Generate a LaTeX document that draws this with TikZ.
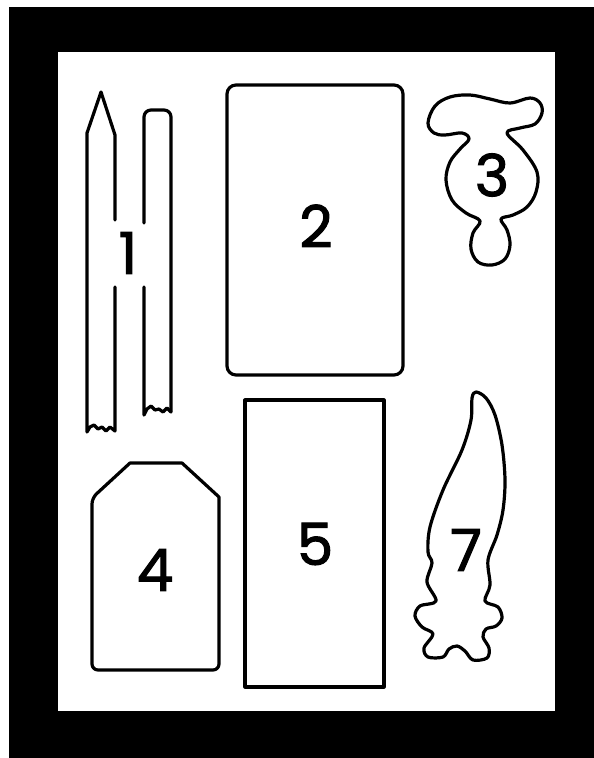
\documentclass[tikz,border=0pt]{standalone}
\usepackage{fontspec}
\newfontfamily\labfont{Poppins}[FakeBold=1.8]
\begin{document}
\begin{tikzpicture}[x=1pt,y=-1pt,
  outline/.style={draw=black,line width=3.2pt,line join=round,line cap=round},
  digit/.style={font=\labfont\fontsize{58}{58}\selectfont,inner sep=0pt}]
\useasboundingbox (0,0) rectangle (594,758);
% frame
\fill[white] (0,0) rectangle (594,758);
\fill[black] (9,7) rectangle (594,758);
\fill[white] (58,52) rectangle (555,711);
% 1: sticks
\draw[outline] (115,220) -- (115,135) -- (101,92) -- (87,133) -- (87,432)
  -- (90,427) -- (94,425) -- (98,429) -- (102,427) -- (106,431) -- (110,427) -- (115,431) -- (115,287);
\draw[outline,rounded corners=7pt] (144,223) -- (144,110) -- (171,110) -- (171,412);
\draw[outline] (171,412) -- (167,408) -- (163,412) -- (159,409) -- (155,410) -- (151,406) -- (147,409) -- (144,415) -- (144,287);
\node[digit] (n1) at (128,253) {1};
% 2
\draw[outline,rounded corners=9pt] (227,85) rectangle (403,375);
\node[digit] (n2) at (316,226) {2};
% 3
\draw[outline] plot[smooth cycle,tension=0.6] coordinates {
 (428,123) (435,106) (450,97) (470,95) (490,99) (510,103) (530,98) (540,103) (542,113)
 (535,124) (520,128) (507,133) (523,150) (537,172) (536,192) (527,207) (513,215) (501,219)
 (507,230) (510,245) (505,259) (492,265) (478,262) (471,249) (473,233) (480,221)
 (466,213) (452,200) (446,180) (450,162) (460,149) (469,139) (462,133) (445,135) (434,133)};
\node[digit] (n3) at (492,175) {3};
% 4
\draw[outline,rounded corners=6pt] (92,670) -- (92,498) [sharp corners] -- (130,463) -- (182,463) -- (219,497) [rounded corners=6pt] -- (219,670) -- cycle;
\node[digit] (n4) at (155,570) {4};
% 5
\draw[outline] (245,400) rectangle (384,687);
\node[digit] (n5) at (315,544) {5};
% 7
\draw[outline] plot[smooth cycle,tension=0.55] coordinates {
 (476,392) (486,398) (495,415) (502,445) (505,480) (503,510) (497,535) (488,560)
 (490,585) (485,601) (498,607) (502,618) (496,626) (486,629) (483,637) (489,648) (487,658)
 (473,660) (465,651) (457,646) (449,649) (443,657) (428,657) (424,648) (433,634)
 (422,627) (415,616) (420,606) (436,601) (427,582) (432,563) (428,552) (430,527)
 (443,490) (462,450) (471,420) (472,398)};
\node[digit] (n7) at (466,550) {7};
\end{tikzpicture}
\end{document}
